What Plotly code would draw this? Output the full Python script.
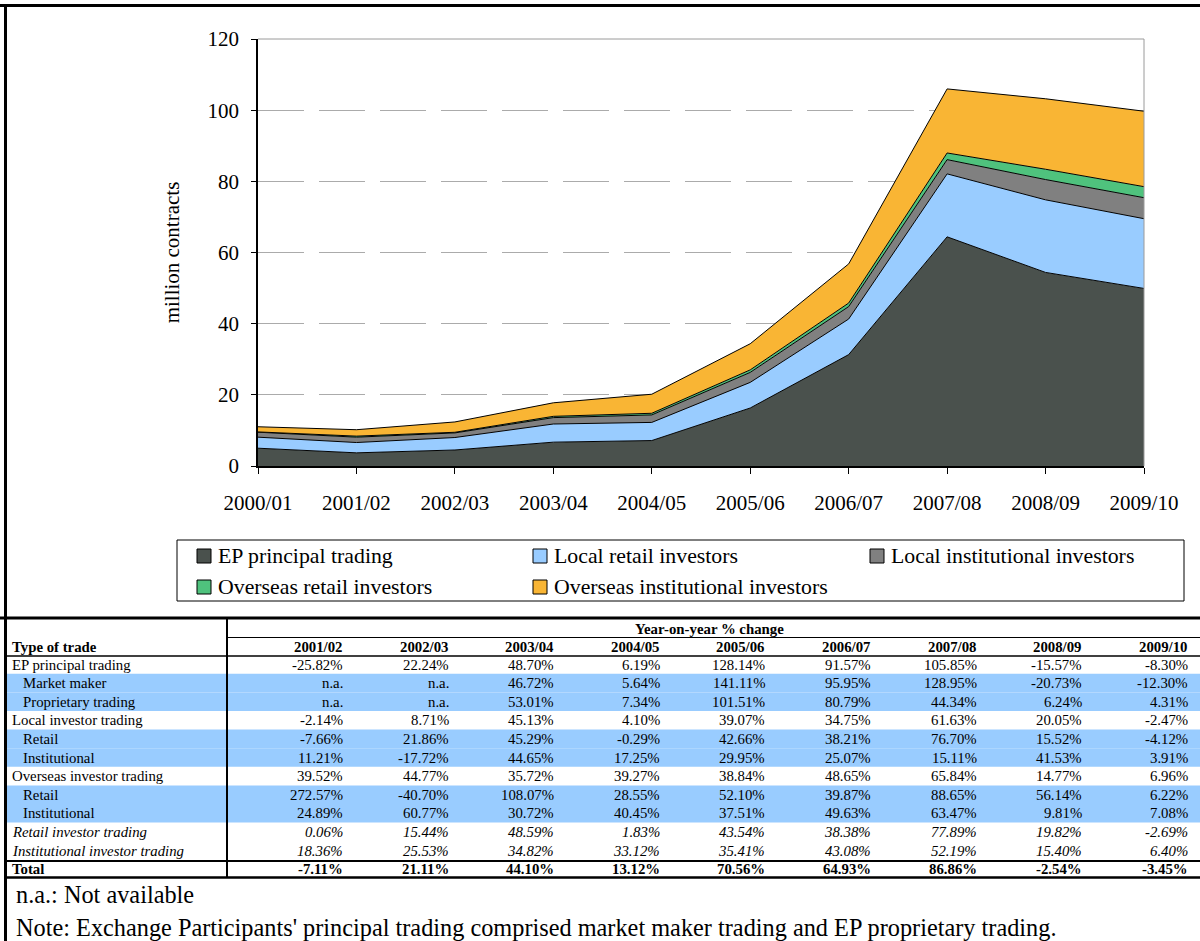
import plotly.graph_objects as go

# ---------------- data ----------------
categories = ["2000/01", "2001/02", "2002/03", "2003/04", "2004/05",
              "2005/06", "2006/07", "2007/08", "2008/09", "2009/10"]

ep_principal = [5.0, 3.7, 4.5, 6.7, 7.15, 16.3, 31.3, 64.4, 54.4, 49.9]
local_retail = [3.1, 2.9, 3.5, 5.1, 5.1, 7.2, 10.0, 17.7, 20.4, 19.6]
local_inst = [1.4, 1.5, 1.3, 1.8, 2.1, 2.8, 3.5, 4.0, 5.7, 5.9]
overseas_retail = [0.08, 0.3, 0.18, 0.36, 0.47, 0.71, 0.99, 1.87, 2.9, 3.1]
overseas_inst = [1.45, 1.8, 2.9, 3.8, 5.35, 7.35, 11.0, 18.0, 19.8, 21.2]

series_names = ["EP principal trading", "Local retail investors",
                "Local institutional investors", "Overseas retail investors",
                "Overseas institutional investors"]
series_colors = ["#4A514D", "#99CCFF", "#808080", "#4FC27D", "#F9B534"]

y_ticks = [0, 20, 40, 60, 80, 100, 120]

table_years = ["2001/02", "2002/03", "2003/04", "2004/05", "2005/06",
               "2006/07", "2007/08", "2008/09", "2009/10"]
row_labels = ["EP principal trading", "Market maker", "Proprietary trading",
              "Local investor trading", "Retail", "Institutional",
              "Overseas investor trading", "Retail", "Institutional",
              "Retail investor trading", "Institutional investor trading", "Total"]
row_ep = ["-25.82%", "22.24%", "48.70%", "6.19%", "128.14%", "91.57%", "105.85%", "-15.57%", "-8.30%"]
row_mm = ["n.a.", "n.a.", "46.72%", "5.64%", "141.11%", "95.95%", "128.95%", "-20.73%", "-12.30%"]
row_prop = ["n.a.", "n.a.", "53.01%", "7.34%", "101.51%", "80.79%", "44.34%", "6.24%", "4.31%"]
row_local = ["-2.14%", "8.71%", "45.13%", "4.10%", "39.07%", "34.75%", "61.63%", "20.05%", "-2.47%"]
row_local_retail = ["-7.66%", "21.86%", "45.29%", "-0.29%", "42.66%", "38.21%", "76.70%", "15.52%", "-4.12%"]
row_local_inst = ["11.21%", "-17.72%", "44.65%", "17.25%", "29.95%", "25.07%", "15.11%", "41.53%", "3.91%"]
row_overseas = ["39.52%", "44.77%", "35.72%", "39.27%", "38.84%", "48.65%", "65.84%", "14.77%", "6.96%"]
row_ov_retail = ["272.57%", "-40.70%", "108.07%", "28.55%", "52.10%", "39.87%", "88.65%", "56.14%", "6.22%"]
row_ov_inst = ["24.89%", "60.77%", "30.72%", "40.45%", "37.51%", "49.63%", "63.47%", "9.81%", "7.08%"]
row_retail_all = ["0.06%", "15.44%", "48.59%", "1.83%", "43.54%", "38.38%", "77.89%", "19.82%", "-2.69%"]
row_inst_all = ["18.36%", "25.53%", "34.82%", "33.12%", "35.41%", "43.08%", "52.19%", "15.40%", "6.40%"]
row_total = ["-7.11%", "21.11%", "44.10%", "13.12%", "70.56%", "64.93%", "86.86%", "-2.54%", "-3.45%"]

table_rows = [row_ep, row_mm, row_prop, row_local, row_local_retail, row_local_inst,
              row_overseas, row_ov_retail, row_ov_inst, row_retail_all, row_inst_all, row_total]
row_indent = [0, 1, 1, 0, 1, 1, 0, 1, 1, 0, 0, 0]
row_style = ["n", "n", "n", "n", "n", "n", "n", "n", "n", "i", "i", "b"]
blue_rows = [1, 2, 4, 5, 7, 8]

note1 = "n.a.: Not available"
note2 = ("Note: Exchange Participants' principal trading comprised market maker "
         "trading and EP proprietary trading.")

# ---------------- geometry helpers (pixel -> paper) ----------------
W, H = 1200, 941
L, R, T, B = 258, 56, 39, 475
PW = W - L - R
PH = H - T - B


def X(px):
    return (px - L) / PW


def Y(py):
    return (H - B - py) / PH


FONT = "Liberation Serif, Times New Roman, serif"
BIG = 21
LEG = 21.8
NOTE = 24.3
SMALL = 14.8

fig = go.Figure()
for name, vals, col in zip(series_names,
                           [ep_principal, local_retail, local_inst, overseas_retail, overseas_inst],
                           series_colors):
    fig.add_trace(go.Scatter(
        x=categories, y=vals, name=name, mode="lines", stackgroup="one",
        line=dict(color="black", width=1), fillcolor=col, showlegend=False,
    ))

shapes = []
annotations = []


def hline(py, x0, x1, width=1, color="black"):
    shapes.append(dict(type="line", xref="paper", yref="paper",
                       x0=X(x0), x1=X(x1), y0=Y(py), y1=Y(py),
                       line=dict(color=color, width=width)))


def vline(px, y0, y1, width=1, color="black"):
    shapes.append(dict(type="line", xref="paper", yref="paper",
                       x0=X(px), x1=X(px), y0=Y(y0), y1=Y(y1),
                       line=dict(color=color, width=width)))


def text(s, px, py, size=SMALL, xanchor="left", bold=False, italic=False):
    if bold:
        s = "<b>" + s + "</b>"
    if italic:
        s = "<i>" + s + "</i>"
    annotations.append(dict(text=s, xref="paper", yref="paper", x=X(px), y=Y(py),
                            xanchor=xanchor, yanchor="middle", showarrow=False,
                            font=dict(family=FONT, size=size, color="black")))


# blue highlighted rows (below everything)
row_h = 18.6
row_c0 = 664.5
for r in blue_rows:
    c = row_c0 + row_h * r
    shapes.append(dict(type="rect", xref="paper", yref="paper", layer="below",
                       x0=X(7), x1=X(1200), y0=Y(c - row_h / 2), y1=Y(c + row_h / 2),
                       fillcolor="#99CCFF", line=dict(width=0)))

# page borders
hline(5.5, 0, 1200, width=3)
vline(5.5, 4, 941, width=3)

# plot-area grey border (top & right)
hline(39, 258, 1144, width=1, color="#9A9A9A")
vline(1144, 39, 466, width=1, color="#9A9A9A")

# legend
shapes.append(dict(type="rect", xref="paper", yref="paper",
                   x0=X(177), x1=X(1184), y0=Y(540), y1=Y(601),
                   line=dict(color="black", width=1), fillcolor="rgba(0,0,0,0)"))
legend_pos = [(197, 556), (533, 556), (870, 556), (197, 587), (533, 587)]
for (lx, ly), name, col in zip(legend_pos, series_names, series_colors):
    shapes.append(dict(type="rect", xref="paper", yref="paper",
                       x0=X(lx), x1=X(lx + 14), y0=Y(ly - 7), y1=Y(ly + 7),
                       line=dict(color="black", width=1), fillcolor=col))
    text(name, lx + 19, ly, size=LEG)

# table lines
hline(618, 0, 1200, width=3)
vline(227, 617, 878, width=2)
hline(637.5, 227, 1200, width=1.2)
hline(656, 6, 1200, width=1.5)
hline(861, 6, 1200, width=2)
hline(877.5, 6, 1200, width=2.5)

# table headers
text("Year-on-year % change", 709, 629, bold=True, xanchor="center")
text("Type of trade", 10, 647, bold=True)
col_right = [345 + 105.6 * k for k in range(9)]
for yr, cx in zip(table_years, col_right):
    text(yr, cx, 647, bold=True, xanchor="right")

# table body
for r, (lab, vals) in enumerate(zip(row_labels, table_rows)):
    c = row_c0 + row_h * r
    st = row_style[r]
    text(lab, 10 + 11 * row_indent[r], c, bold=(st == "b"), italic=(st == "i"))
    for v, cx in zip(vals, col_right):
        text(v, cx, c, xanchor="right", bold=(st == "b"), italic=(st == "i"))

# notes
text(note1, 14, 894, size=NOTE)
text(note2, 14, 927, size=NOTE)

fig.update_layout(
    width=W, height=H,
    margin=dict(l=L, r=R, t=T, b=B, autoexpand=False),
    paper_bgcolor="white", plot_bgcolor="white",
    font=dict(family=FONT, size=BIG, color="black"),
    showlegend=False,
    shapes=shapes, annotations=annotations,
    xaxis=dict(type="category", range=[0, 9], showline=True, linecolor="black",
               linewidth=1.5, ticks="outside", ticklen=6, tickcolor="black",
               tickwidth=1, showgrid=False, zeroline=False,
               tickfont=dict(family=FONT, size=BIG, color="black"),
               ticklabelstandoff=11, automargin=False),
    yaxis=dict(range=[0, 120], tickvals=y_ticks, showline=True, linecolor="black",
               linewidth=1.5, ticks="outside", ticklen=5, tickcolor="black",
               showgrid=True, gridcolor="#ABABAB", gridwidth=1, griddash="46px,15px",
               zeroline=False, tickfont=dict(family=FONT, size=BIG, color="black"),
               ticklabelstandoff=8, automargin=False,
               title=dict(text="million contracts", standoff=22,
                          font=dict(family=FONT, size=BIG, color="black"))),
)

fig.write_html("out.html", config={"displayModeBar": False},
               post_script="document.body.style.margin='0px';document.body.style.overflow='hidden';")
